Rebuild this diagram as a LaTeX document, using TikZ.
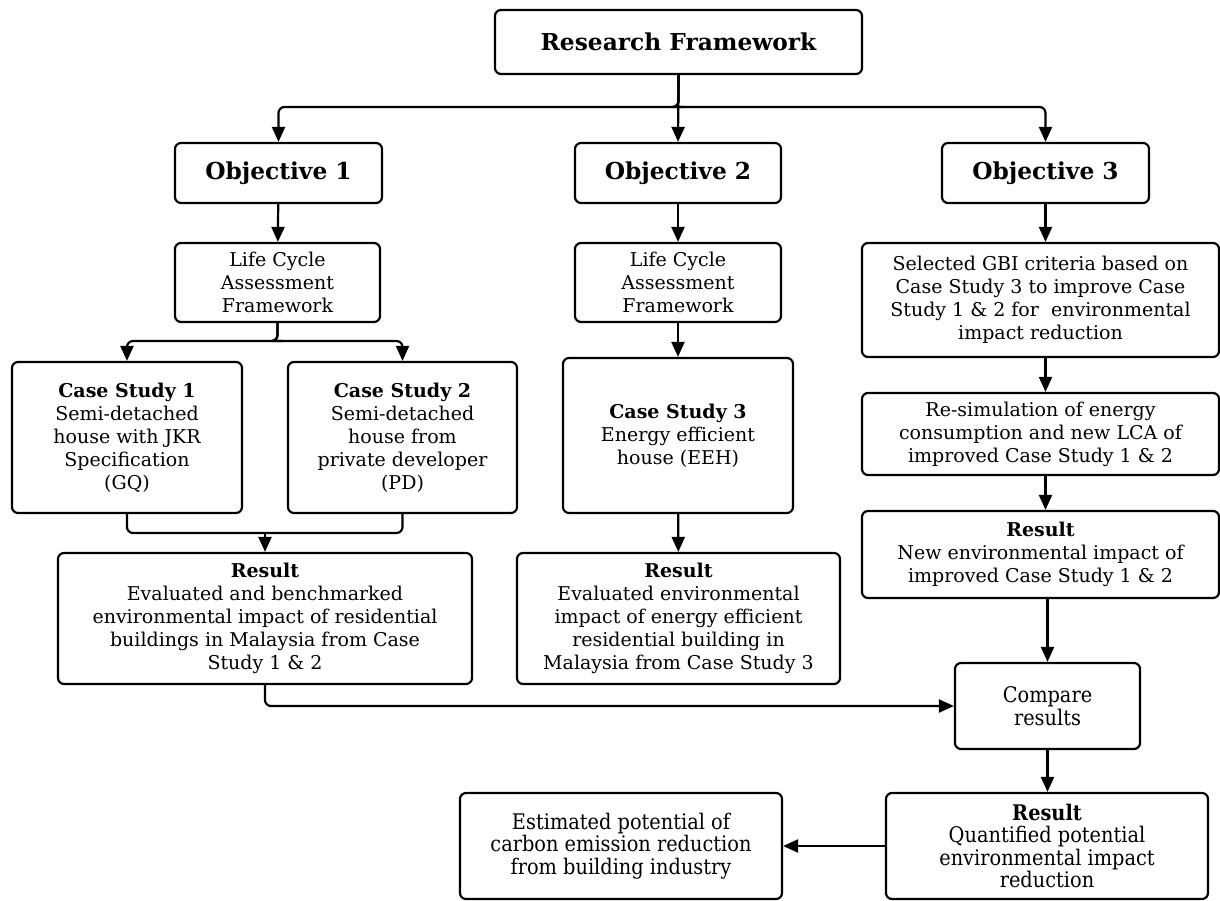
\documentclass[tikz,border=0pt]{standalone}
\usepackage{fontspec}
\setmainfont{DejaVu Serif}
\newfontfamily\cond[FakeStretch=0.9]{DejaVu Serif}
\usetikzlibrary{arrows.meta}
\tikzset{
  box/.style={draw, line width=2.2pt, rounded corners=6pt, align=center, inner sep=0pt,
    font=\fontsize{19}{23}\selectfont},
  head/.style={box, font=\fontsize{23.3}{26}\selectfont\bfseries},
  cbox/.style={box, font=\fontsize{21.5}{22.5}\selectfont\cond},
  conn/.style={line width=2.2pt, rounded corners=6pt},
  arr/.style={conn, -{Triangle[width=13pt,length=15pt]}},
}
\newcommand{\bx}[6]{% name, x1, y1, x2, y2, style
  \node[#6, minimum width={#4-#2}, minimum height={#5-#3}] (#1) at ({(#2+#4)/2},{(#3+#5)/2})}
\begin{document}
\begin{tikzpicture}[x=1pt,y=-1pt]
\useasboundingbox (0,0) rectangle (1220,901);
\bx{rf}{495}{10}{862}{74}{head}{Research Framework};
\bx{o1}{175}{143}{382}{203}{head}{Objective 1};
\bx{o2}{575}{143}{781}{203}{head}{Objective 2};
\bx{o3}{942}{143}{1149}{203}{head}{Objective 3};
\bx{l1}{175}{243}{380}{322}{box}{Life Cycle\\Assessment\\Framework};
\bx{l2}{575}{243}{781}{322}{box}{Life Cycle\\Assessment\\Framework};
\bx{gbi}{862}{243}{1219}{357}{box}{Selected GBI criteria based on\\Case Study 3 to improve Case\\Study 1 \& 2 for\ \ environmental\\impact reduction};
\bx{cs1}{12}{362}{242}{513}{box}{\textbf{Case Study 1}\\Semi-detached\\house with JKR\\Specification\\(GQ)};
\bx{cs2}{288}{362}{517}{513}{box}{\textbf{Case Study 2}\\Semi-detached\\house from\\private developer\\(PD)};
\bx{cs3}{563}{358}{793}{513}{box}{\textbf{Case Study 3}\\Energy efficient\\house (EEH)};
\bx{rs}{862}{393}{1219}{475}{box}{Re-simulation of energy\\consumption and new LCA of\\improved Case Study 1 \& 2};
\bx{r3}{862}{511}{1219}{598}{box}{\textbf{Result}\\New environmental impact of\\improved Case Study 1 \& 2};
\bx{r1}{58}{553}{472}{684}{box}{\textbf{Result}\\Evaluated and benchmarked\\environmental impact of residential\\buildings in Malaysia from Case\\Study 1 \& 2};
\bx{r2}{517}{553}{840}{684}{box}{\textbf{Result}\\Evaluated environmental\\impact of energy efficient\\residential building in\\Malaysia from Case Study 3};
\bx{cmp}{955}{663}{1140}{749}{cbox}{Compare\\results};
\bx{fin}{886}{793}{1208}{899}{cbox}{\textbf{Result}\\Quantified potential\\environmental impact\\reduction};
\bx{est}{460}{793}{782}{899}{cbox}{Estimated potential of\\carbon emission reduction\\from building industry};
% connectors
\coordinate (t) at (678,107);
\draw[arr] (rf.south) -- (o2.north);
\draw[arr] (rf.south) |- (t) -| (o1.north);
\draw[arr] (rf.south) |- (t) -| (o3.north);
\draw[arr] (o1) -- (l1);
\draw[arr] (o2) -- (l2);
\draw[arr] (o3.south) -- (o3.south |- gbi.north);
\coordinate (b1) at (277,341);
\draw[arr] (l1.south) |- (b1) -| (cs1.north);
\draw[arr] (l1.south) |- (b1) -| (cs2.north);
\draw[arr] (l2) -- (cs3);
\draw[arr] (gbi.south -| o3.south) -- (rs.north -| o3.south);
\draw[arr] (rs.south -| o3.south) -- (r3.north -| o3.south);
\coordinate (m1) at (265,533);
\draw[conn] (cs1.south) |- (m1) -| (cs2.south);
\draw[arr] (m1) -- (r1.north);
\draw[arr] (cs3) -- (r2);
\draw[arr] (r1.south) |- (cmp.west);
\draw[arr] (r3.south -| cmp.north) -- (cmp.north);
\draw[arr] (cmp.south) -- (cmp.south |- fin.north);
\draw[arr] (fin.west |- est.east) -- (est.east);
\end{tikzpicture}
\end{document}
